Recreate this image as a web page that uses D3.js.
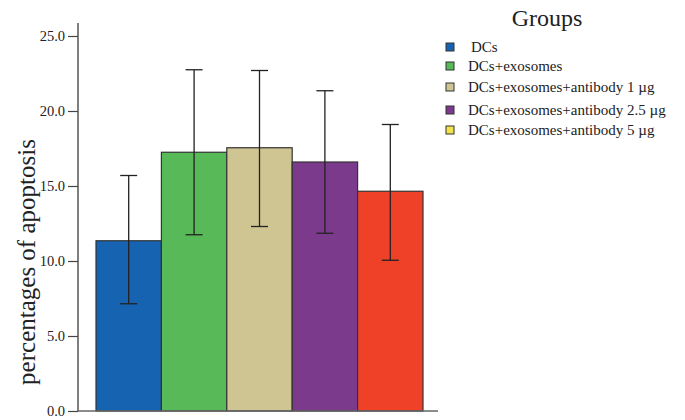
<!DOCTYPE html>
<html>
<head>
<meta charset="utf-8">
<script src="https://cdn.jsdelivr.net/npm/d3@7"></script>
<style>
  html, body { margin: 0; padding: 0; background: #fff; }
  svg { display: block; }
  text { font-family: "Liberation Serif", "DejaVu Serif", serif; fill: #222; }
</style>
</head>
<body>
<svg id="chart" width="685" height="420"></svg>
<script>
const categories = ["DCs", "DCs+exosomes", "DCs+exosomes+antibody 1 µg", "DCs+exosomes+antibody 2.5 µg", "DCs+exosomes+antibody 5 µg"];
const values = [11.35, 17.25, 17.55, 16.6, 14.65];
const errLower = [7.15, 11.75, 12.3, 11.85, 10.05];
const errUpper = [15.7, 22.75, 22.7, 21.35, 19.1];
const barColors = ["#1663b2", "#58b958", "#cfc592", "#7c3a8d", "#ef4127"];
const legendColors = ["#1663b2", "#58b958", "#cfc592", "#7c3a8d", "#f2e14a"];
const yTicks = [0, 5, 10, 15, 20, 25];

const svg = d3.select("#chart");
const y = d3.scaleLinear().domain([0, 25]).range([411, 36]);
const x = d3.scaleBand().domain(categories).range([96, 423]).padding(0);

// bars
svg.append("g").selectAll("rect").data(categories).join("rect")
  .attr("x", d => x(d))
  .attr("y", (d, i) => y(values[i]))
  .attr("width", x.bandwidth())
  .attr("height", (d, i) => y(0) - y(values[i]))
  .attr("fill", (d, i) => barColors[i])
  .attr("stroke", "#333")
  .attr("stroke-width", 1.2);

// error bars
const eb = svg.append("g").attr("stroke", "#222").attr("stroke-width", 1.3);
categories.forEach((c, i) => {
  const cx = x(c) + x.bandwidth() / 2;
  eb.append("line").attr("x1", cx).attr("x2", cx).attr("y1", y(errUpper[i])).attr("y2", y(errLower[i]));
  eb.append("line").attr("x1", cx - 8.5).attr("x2", cx + 8.5).attr("y1", y(errUpper[i])).attr("y2", y(errUpper[i]));
  eb.append("line").attr("x1", cx - 8.5).attr("x2", cx + 8.5).attr("y1", y(errLower[i])).attr("y2", y(errLower[i]));
});

// y axis
const yAxis = d3.axisLeft(y).tickValues(yTicks).tickFormat(d3.format(".1f")).tickSize(10).tickPadding(3);
const ga = svg.append("g").attr("transform", "translate(78,0)").call(yAxis);
ga.select(".domain").remove();
ga.selectAll(".tick line").attr("stroke", "#444").attr("stroke-width", 1.2);
ga.selectAll(".tick text").attr("font-family", "Liberation Serif, serif").attr("font-size", 14.5).attr("fill", "#333");
svg.append("line").attr("x1", 78).attr("x2", 78).attr("y1", 23).attr("y2", 411).attr("stroke", "#555").attr("stroke-width", 1.5);

// x axis line
svg.append("line").attr("x1", 78).attr("x2", 438).attr("y1", y(0)).attr("y2", y(0)).attr("stroke", "#666").attr("stroke-width", 1.5);

// y label
svg.append("text")
  .attr("transform", "translate(35,262) rotate(-90)")
  .attr("text-anchor", "middle")
  .attr("font-size", 25)
  .text("percentages of apoptosis");

// legend
svg.append("text").attr("x", 547).attr("y", 26).attr("text-anchor", "middle").attr("font-size", 24).text("Groups");
const legY = [47, 66, 87, 110, 130];
const lg = svg.append("g");
categories.forEach((c, i) => {
  lg.append("rect").attr("x", 446).attr("y", legY[i] - 4).attr("width", 8).attr("height", 8)
    .attr("fill", legendColors[i]).attr("stroke", "#333").attr("stroke-width", 1);
  lg.append("text").attr("x", i === 0 ? 471 : 468).attr("y", legY[i] + 5).attr("font-size", 15).text(c);
});
</script>
</body>
</html>
